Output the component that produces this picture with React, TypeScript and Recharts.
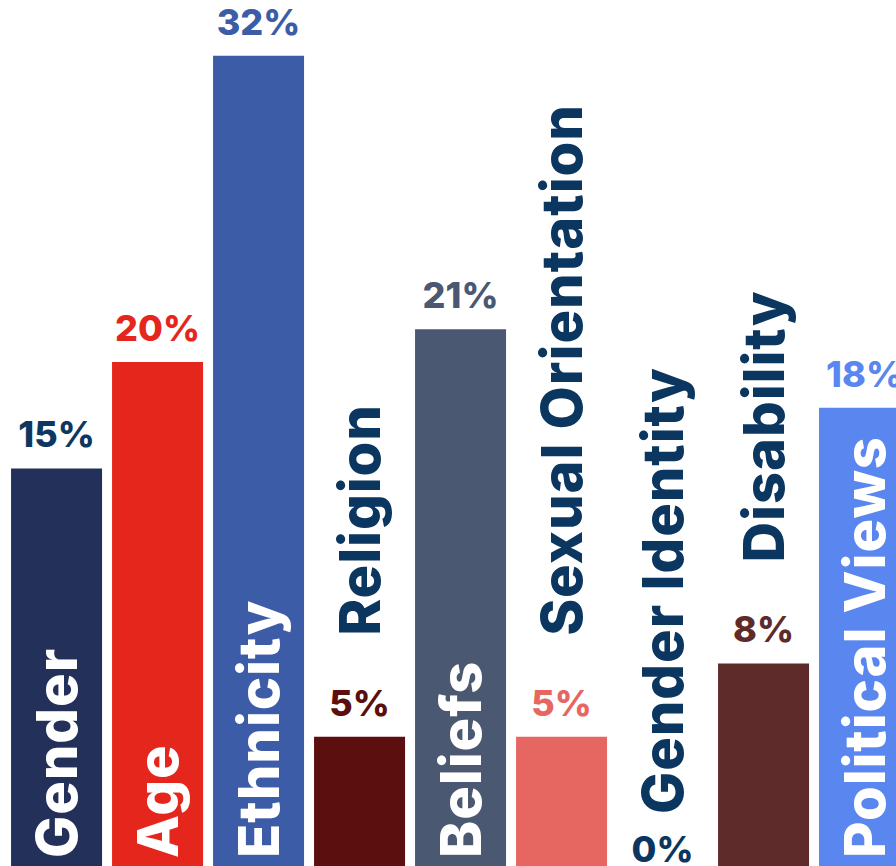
import { BarChart, Bar, Cell, XAxis, YAxis, LabelList } from 'recharts';

const CATEGORIES = [
  'Gender',
  'Age',
  'Ethnicity',
  'Religion',
  'Beliefs',
  'Sexual Orientation',
  'Gender Identity',
  'Disability',
  'Political Views',
];
const SHARES = [15.7, 19.9, 32, 5.1, 21.2, 5.1, 0, 8, 18.1];
const SHARE_LABELS = ['15%', '20%', '32%', '5%', '21%', '5%', '0%', '8%', '18%'];

// the empty bar is left white so only its labels show
const BAR_COLORS = ['#22305a', '#e5261c', '#3d5ca7', '#5b0f0e', '#4b5871', '#e66762', '#ffffff', '#5e2a2a', '#5a86ef'];
const VALUE_COLORS = ['#0d3761', '#e5261c', '#3d5ca7', '#5b0f0e', '#4b5871', '#e66762', '#0b3660', '#5e2a2a', '#5a86ef'];
const NAVY = '#0b3660';

const CHART_W = 909;
const CHART_H = 866;
const FONT = 'Inter, "DejaVu Sans", sans-serif';

const chartData = CATEGORIES.map((name, i) => ({ name, share: SHARES[i] }));

const indexOf = (name: string) => CATEGORIES.indexOf(name);

// baseline of the % label; the 0% one sits at the very bottom
const valueBaseline = (y: number, i: number) => (SHARES[i] === 0 ? CHART_H - 4 : y - 21);

const ValueLabel = (props: any) => {
  const { x, y, width, value } = props;
  const i = indexOf(value);
  const cx = Number(x) + Number(width) / 2;
  return (
    <text
      x={cx}
      y={valueBaseline(Number(y), i)}
      textAnchor="middle"
      fill={VALUE_COLORS[i]}
      fontSize={36}
      fontWeight={800}
      fontFamily={FONT}
    >
      {SHARE_LABELS[i]}
    </text>
  );
};

const NameLabel = (props: any) => {
  const { x, y, width, value } = props;
  const i = indexOf(value);
  const cx = Number(x) + Number(width) / 2 + 20;
  const inside = SHARES[i] > 10;
  const gap = SHARES[i] === 0 ? 48 : 80;
  const start = inside ? CHART_H - 8 : valueBaseline(Number(y), i) - gap;
  return (
    <text
      x={cx}
      y={start}
      transform={`rotate(-90 ${cx} ${start})`}
      textAnchor="start"
      fill={inside ? '#ffffff' : NAVY}
      fontSize={56}
      fontWeight={800}
      letterSpacing={1}
      fontFamily={FONT}
    >
      {value}
    </text>
  );
};

export default function App() {
  return (
    <div style={{ position: 'fixed', left: 0, top: 0, width: 896, height: 866, overflow: 'hidden', background: '#fff' }}>
      <div style={{ marginLeft: 6 }}>
        <BarChart width={CHART_W} height={CHART_H} data={chartData} margin={{ top: 0, right: 0, bottom: 0, left: 0 }} barCategoryGap="5%">
          <XAxis dataKey="name" hide />
          <YAxis hide domain={[0, 34.2]} />
          <Bar dataKey="share" minPointSize={1} isAnimationActive={false}>
            {chartData.map((entry, index) => (
              <Cell key={`cell-${index}`} fill={BAR_COLORS[index]} />
            ))}
            <LabelList dataKey="name" content={<ValueLabel />} />
            <LabelList dataKey="name" content={<NameLabel />} />
          </Bar>
        </BarChart>
      </div>
    </div>
  );
}
